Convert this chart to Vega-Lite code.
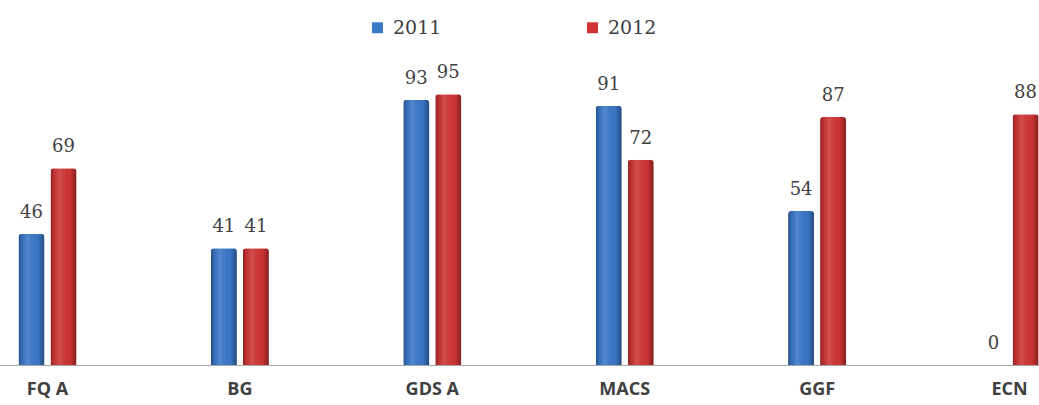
{
  "$schema": "https://vega.github.io/schema/vega-lite/v6.json",
  "width": 1039,
  "height": 285,
  "autosize": {"type": "none"},
  "padding": {"left": 0, "right": 0, "top": 80, "bottom": 40},
  "background": "white",
  "config": {"view": {"stroke": null}},
  "data": {
    "values": [
      {"cat": "FQ A", "year": "2011", "value": 46},
      {"cat": "FQ A", "year": "2012", "value": 69},
      {"cat": "BG", "year": "2011", "value": 41},
      {"cat": "BG", "year": "2012", "value": 41},
      {"cat": "GDS A", "year": "2011", "value": 93},
      {"cat": "GDS A", "year": "2012", "value": 95},
      {"cat": "MACS", "year": "2011", "value": 91},
      {"cat": "MACS", "year": "2012", "value": 72},
      {"cat": "GGF", "year": "2011", "value": 54},
      {"cat": "GGF", "year": "2012", "value": 87},
      {"cat": "ECN", "year": "2011", "value": 0},
      {"cat": "ECN", "year": "2012", "value": 88}
    ]
  },
  "encoding": {
    "x": {
      "field": "cat",
      "type": "nominal",
      "sort": ["FQ A", "BG", "GDS A", "MACS", "GGF", "ECN"],
      "scale": {"range": [-48.7, 1105.7], "paddingInner": 0.6985, "paddingOuter": 0.349},
      "axis": {
        "title": null,
        "labelAngle": 0,
        "labelFont": "Open Sans",
        "labelFontWeight": "bold",
        "labelFontSize": 18,
        "labelColor": "#404040",
        "labelPadding": 15,
        "ticks": false,
        "domainColor": "#a6a6a6",
        "grid": false
      }
    },
    "xOffset": {
      "field": "year",
      "type": "nominal",
      "scale": {"domain": ["2011", "2012"], "paddingInner": 0.1875, "paddingOuter": 0}
    },
    "y": {
      "field": "value",
      "type": "quantitative",
      "scale": {"domain": [0, 100]},
      "axis": null
    }
  },
  "layer": [
    {
      "mark": {"type": "bar", "cornerRadiusTopLeft": 3, "cornerRadiusTopRight": 3},
      "encoding": {
        "color": {
          "field": "year",
          "type": "nominal",
          "scale": {"domain": ["2011", "2012"], "range": ["#3a78c8", "#d03434"]},
          "legend": {
            "title": null,
            "orient": "none",
            "legendX": 368,
            "legendY": -62,
            "direction": "horizontal",
            "symbolType": "square",
            "symbolSize": 120,
            "symbolStrokeWidth": 0,
            "labelFont": "DejaVu Serif",
            "labelFontSize": 19,
            "labelColor": "#404040",
            "labelOffset": 6,
            "columnPadding": 141
          }
        }
      }
    },
    {
      "mark": {
        "type": "bar",
        "cornerRadiusTopLeft": 3,
        "cornerRadiusTopRight": 3,
        "fill": {
          "gradient": "linear",
          "x1": 0, "y1": 0, "x2": 1, "y2": 0,
          "stops": [
            {"offset": 0, "color": "rgba(0,0,0,0.35)"},
            {"offset": 0.12, "color": "rgba(0,0,0,0.1)"},
            {"offset": 0.35, "color": "rgba(255,255,255,0.12)"},
            {"offset": 0.75, "color": "rgba(0,0,0,0.02)"},
            {"offset": 1, "color": "rgba(0,0,0,0.38)"}
          ]
        }
      }
    },
    {
      "mark": {
        "type": "text",
        "baseline": "bottom",
        "dy": -12,
        "font": "DejaVu Serif",
        "fontSize": 18,
        "color": "#404040"
      },
      "encoding": {"text": {"field": "value", "type": "quantitative"}}
    }
  ]
}
